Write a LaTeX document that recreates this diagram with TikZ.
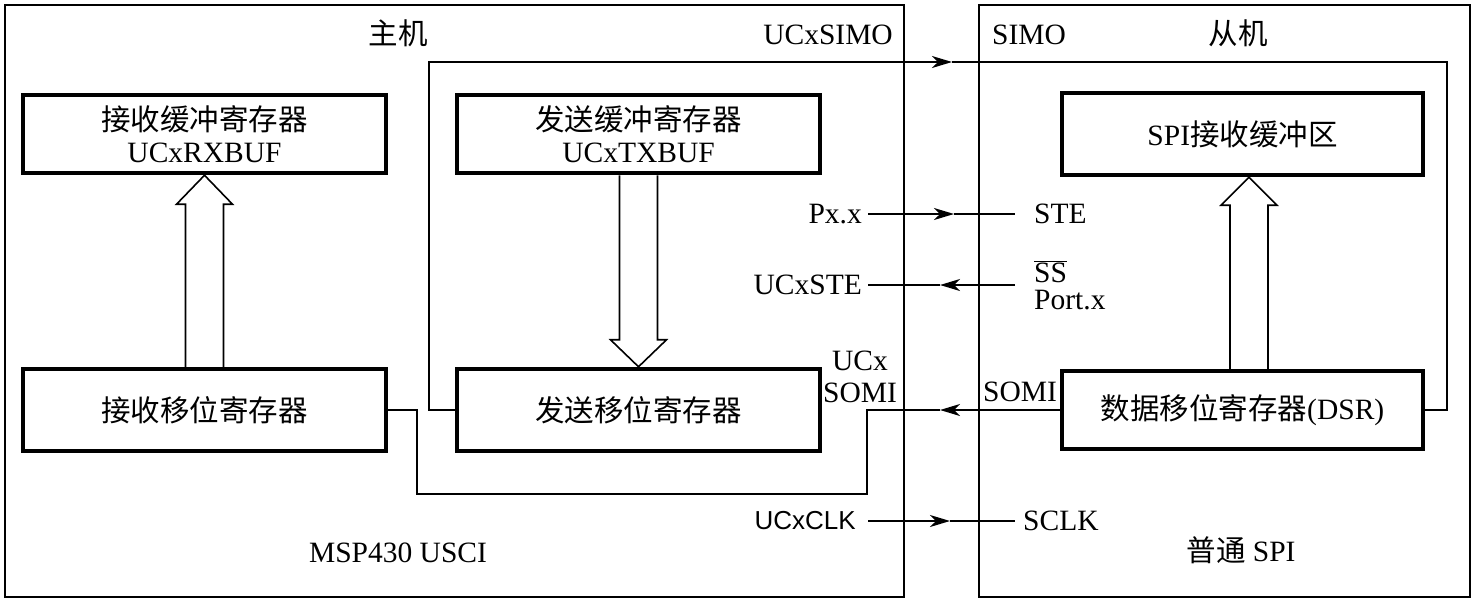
\documentclass[tikz,border=0pt]{standalone}
\usepackage{fontspec}
\setmainfont{Liberation Serif}
\newfontfamily\cjk{Noto Sans CJK SC}
\newfontfamily\arialfont{Liberation Sans}
\usetikzlibrary{arrows.meta,calc}
\newcommand\myfs{\fontsize{29.5}{32}\selectfont}
\begin{document}
\begin{tikzpicture}[x=1pt,y=-1pt,
  lbl/.style={font=\myfs, inner sep=0pt, align=center},
  regbox/.style={draw, line width=4.5pt, align=center, font=\myfs, inner sep=0pt},
  framebox/.style={draw, line width=2.6pt, inner sep=0pt},
  wire/.style={line width=1.6pt},
  arr/.style={-{Stealth[length=20pt,width=12pt,inset=6pt]}},
  hollow/.style={draw, line width=1.6pt, line join=miter}]
\useasboundingbox (0,0) rectangle (1477,603);

% frames
\node[framebox, minimum width=899pt, minimum height=592pt] (host) at (454.5,301) {};
\node[framebox, minimum width=491pt, minimum height=592pt] (slave) at (1224.5,301) {};

% registers
\node[regbox, minimum width=363pt, minimum height=78pt] (rxbuf) at (204.5,134) {{\cjk 接收缓冲寄存器}\\UCxRXBUF};
\node[regbox, minimum width=363pt, minimum height=78pt] (txbuf) at (638.5,134) {{\cjk 发送缓冲寄存器}\\UCxTXBUF};
\node[regbox, minimum width=363pt, minimum height=82pt] (rxsh) at (204.5,410) {\cjk 接收移位寄存器};
\node[regbox, minimum width=363pt, minimum height=82pt] (txsh) at (638.5,410) {\cjk 发送移位寄存器};
\node[regbox, minimum width=361pt, minimum height=82pt] (spibuf) at (1242.5,134) {SPI{\cjk 接收缓冲区}};
\node[regbox, minimum width=361pt, minimum height=78pt] (dsr) at (1242.5,410) {{\cjk 数据移位寄存器}(DSR)};

% hollow arrows
\draw[hollow] ($(rxsh.north)+(-19,0)$) |- ($(rxbuf.south)+(-28,29)$) -- (rxbuf.south) -- ($(rxbuf.south)+(28,29)$) -| ($(rxsh.north)+(19,0)$);
\draw[hollow] ($(txbuf.south)+(-19,0)$) |- ($(txsh.north)+(-28,-27)$) -- (txsh.north) -- ($(txsh.north)+(28,-27)$) -| ($(txbuf.south)+(19,0)$);
\coordinate (rbase) at ($(dsr.north)+(6.5,0)$);
\coordinate (rtip) at ($(spibuf.south)+(6.5,0)$);
\draw[hollow] ($(rbase)+(-19,0)$) |- ($(rtip)+(-28,28)$) -- (rtip) -- ($(rtip)+(28,28)$) -| ($(rbase)+(19,0)$);

% labels
\node[lbl] (hostlbl) at (398,33) {\cjk 主机};
\node[lbl] (slavelbl) at (1238,33) {\cjk 从机};
\node[lbl, anchor=east] (ucxsimo) at (893,35) {UCxSIMO};
\node[lbl, anchor=west] (simo) at (992,35) {SIMO};
\node[lbl, anchor=east] (pxx) at (862,214) {Px.x};
\node[lbl, anchor=west] (ste) at (1034,214) {STE};
\node[lbl, anchor=east] (ucxste) at (862,285) {UCxSTE};
\node[lbl, anchor=west, align=left, font=\fontsize{29.5}{27}\selectfont] (ssport) at (1034,285) {$\overline{\mbox{SS}}$\\Port.x};
\node[lbl] (ucxsomi) at (860,377) {UCx\\SOMI};
\node[lbl] (somi) at (1020,392) {SOMI};
\node[lbl, anchor=east, font=\arialfont\fontsize{26}{28}\selectfont] (ucxclk) at (856,521) {UCxCLK};
\node[lbl, anchor=west] (sclk) at (1023,521) {SCLK};
\node[lbl] (msp) at (398,553) {MSP430 USCI};
\node[lbl] (plain) at (1241,550) {{\cjk 普通} SPI};

% SIMO connector
\coordinate (simoA) at (429,62);
\coordinate (simoM) at (952,62);
\coordinate (simoB) at (1447,62);
\draw[wire, arr] (txsh.west) -| (simoA) -- (simoM);
\draw[wire] (simoM) -- (simoB) |- (dsr.east);

% SOMI connector
\coordinate (somiM) at (940,410);
\coordinate (somiA) at (867,494);
\coordinate (somiB) at (417,410);
\draw[wire, arr] (dsr.west) -- (somiM);
\draw[wire] (somiM) -| (somiA) -| (somiB) -- (rxsh.east);

% STE lines
\coordinate (pxM) at (954,214);
\draw[wire, arr] ([xshift=6pt]pxx.east) -- (pxM);
\draw[wire] (pxM) -- ([xshift=-19pt]ste.west);
\coordinate (steM) at (940,285);
\draw[wire, arr] ([xshift=-19pt]ssport.west) -- (steM);
\draw[wire] (steM) -- ([xshift=6pt]ucxste.east);

% CLK line
\coordinate (clkM) at (950,521);
\draw[wire, arr] ([xshift=12pt]ucxclk.east) -- (clkM);
\draw[wire] (clkM) -- ([xshift=-8pt]sclk.west);
\end{tikzpicture}
\end{document}
